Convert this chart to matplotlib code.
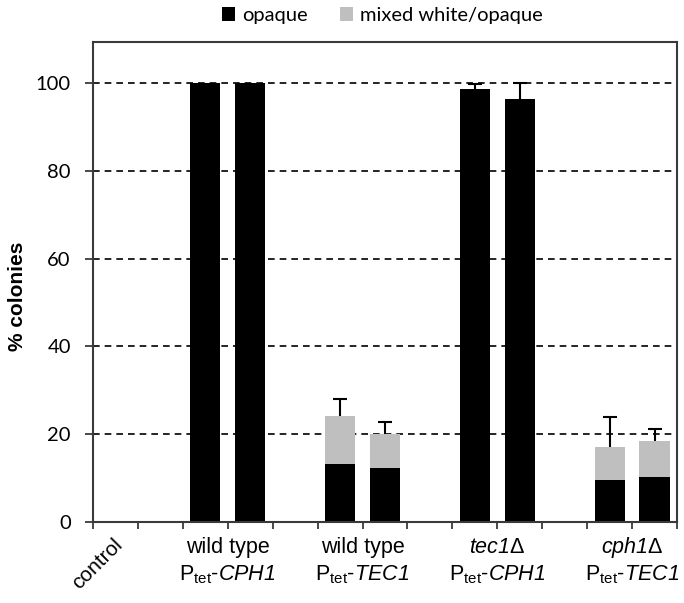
import matplotlib
matplotlib.use("Agg")
import matplotlib.pyplot as plt
import numpy as np
from matplotlib.patches import Patch

# ---- data ----
slots = [0, 2, 3, 5, 6, 8, 9, 11, 12]           # bar slots (control at 0)
opaque = [0, 100, 100, 13.2, 12.2, 98.6, 96.3, 9.6, 10.3]
mixed = [0, 0, 0, 10.8, 7.8, 0, 0, 7.5, 8.1]
err_up = [0, 0, 0, 3.9, 2.7, 1.1, 3.8, 6.7, 2.7]
group_pos = [3, 6, 9, 12]
group_line1 = ["wild type", "wild type", r"$\mathsf{tec1}\Delta$", r"$\mathsf{cph1}\Delta$"]
group_line2 = [r"P$_{\mathrm{tet}}$-$\mathsf{CPH1}$", r"P$_{\mathrm{tet}}$-$\mathsf{TEC1}$",
               r"P$_{\mathrm{tet}}$-$\mathsf{CPH1}$", r"P$_{\mathrm{tet}}$-$\mathsf{TEC1}$"]
yticks = [0, 20, 40, 60, 80, 100]

plt.rcParams['mathtext.fontset'] = 'custom'
plt.rcParams['mathtext.rm'] = 'Liberation Sans'
plt.rcParams['mathtext.it'] = 'Liberation Sans:italic'
plt.rcParams['mathtext.sf'] = 'Liberation Sans:italic'
plt.rcParams['mathtext.bf'] = 'Liberation Sans:bold'

fig = plt.figure(figsize=(6.84, 6.03), dpi=100)
ax = fig.add_axes([93/684, (603-521.7)/603, (677-93)/684, (521.7-41.5)/603])

spine_c = '#3a3a3a'
for s in ax.spines.values():
    s.set_color(spine_c)
    s.set_linewidth(1.5)

ax.set_xlim(0, 13)
ax.set_ylim(0, 109.5)

for y in yticks[1:]:
    ax.axhline(y, color='black', lw=1.2, ls=(0, (4, 3)), zorder=1)

x = np.array(slots) + 0.5
w = 0.67
opaque = np.array(opaque); mixed = np.array(mixed); err_up = np.array(err_up)
ax.bar(x, opaque, width=w, color='black', zorder=2)
ax.bar(x, mixed, width=w, bottom=opaque, color='#bfbfbf', zorder=2)
tot = opaque + mixed
m = err_up > 0
eb = ax.errorbar(x[m], tot[m], yerr=[np.zeros(m.sum()), err_up[m]], fmt='none',
                 ecolor='black', elinewidth=1.5, capsize=5, capthick=1.5, zorder=3)
caplines = eb[1]
if len(caplines) == 2:
    caplines[0].set_visible(False)

ax.set_yticks(yticks)
ax.set_yticklabels([str(v) for v in yticks], fontfamily='Lato', fontsize=14.5)
ax.tick_params(axis='y', direction='out', length=6, width=1.3, color=spine_c, pad=10)
ax.set_xticks(np.arange(0, 14))
ax.set_xticklabels([])
ax.tick_params(axis='x', direction='out', length=5, width=1.3, color=spine_c)

ax.set_ylabel('% colonies', fontfamily='Liberation Sans', fontweight='bold', fontsize=15)
ax.yaxis.label.set_va('center')
ax.yaxis.set_label_coords(-0.129, 0.47)

# control label
ax.text(0.45, -3.0, 'control', rotation=45, ha='right', va='top', fontfamily='Liberation Sans',
        fontsize=15, clip_on=False, rotation_mode='anchor')

for gp, l1, l2 in zip(group_pos, group_line1, group_line2):
    ax.text(gp, -7.1, l1, ha='center', va='baseline', fontfamily='Liberation Sans', fontsize=15.5, clip_on=False)
    ax.text(gp, -13.3, l2, ha='center', va='baseline', fontfamily='Liberation Sans', fontsize=15.5, clip_on=False)

handles = [Patch(facecolor='black', label='opaque'), Patch(facecolor='#bfbfbf', label='mixed white/opaque')]
leg = fig.legend(handles=handles, loc='center', bbox_to_anchor=(382.5/684, 1-15.5/603), ncol=2, frameon=False,
                 prop={'family': 'Lato', 'size': 14.5}, handlelength=0.65, handleheight=0.65,
                 handletextpad=0.35, columnspacing=1.6, borderpad=0, borderaxespad=0)

fig.savefig('out.png', dpi=100)
